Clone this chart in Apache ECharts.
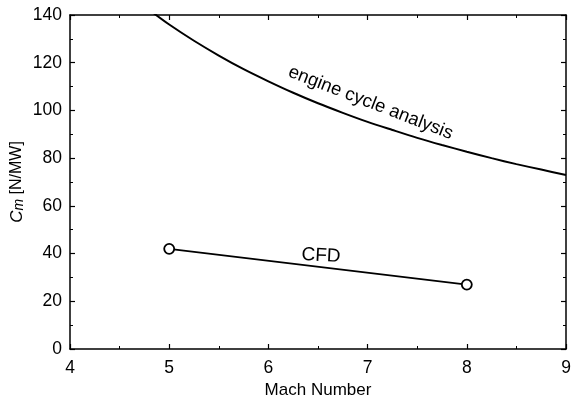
<!DOCTYPE html>
<html><head><meta charset="utf-8">
<script src="https://cdn.jsdelivr.net/npm/echarts@6/dist/echarts.min.js"></script>
<style>html,body{margin:0;padding:0;background:#fff}#c{width:571px;height:398px}</style>
</head><body><div id="c"></div>
<script>
var engineMach = [4.8, 5.0, 5.25, 5.5, 5.75, 6.0, 6.25, 6.5, 6.75, 7.0, 7.25, 7.5, 7.75, 8.0, 8.25, 8.5, 8.75, 9.0];
var engineCm   = [142.1, 136.0, 129.2, 123.0, 117.3, 112.2, 107.4, 103.0, 99.0, 95.2, 91.8, 88.5, 85.5, 82.7, 80.0, 77.5, 75.2, 72.9];
var cfdMach = [5, 8];
var cfdCm = [42, 27];
var xTicks = [4, 5, 6, 7, 8, 9];
var yTicks = [0, 20, 40, 60, 80, 100, 120, 140];

var FONT = 'Liberation Sans';
var chart = echarts.init(document.getElementById('c'));
function zip(a, b) { return a.map(function (v, i) { return [v, b[i]]; }); }
var axisLine = { show: true, onZero: false, lineStyle: { color: '#000', width: 1.5 } };
var tick = { show: true, inside: true, length: 5, lineStyle: { color: '#000', width: 1.2 } };
var minor = { show: true, splitNumber: 2, length: 3, lineStyle: { color: '#000', width: 1 } };
chart.setOption({
  animation: false,
  grid: { left: 70, right: 5, top: 15, bottom: 49, containLabel: false, outerBoundsMode: 'none' },
  xAxis: [{
    type: 'value', min: xTicks[0], max: xTicks[xTicks.length - 1], interval: 1,
    name: 'Mach Number', nameLocation: 'middle', nameGap: 25,
    nameTextStyle: { fontFamily: FONT, fontSize: 17, color: '#000' },
    axisLine: axisLine, axisTick: tick, minorTick: minor, splitLine: { show: false },
    axisLabel: { fontFamily: FONT, fontSize: 17.5, color: '#000', margin: 10 }
  }, {
    type: 'value', position: 'top', min: xTicks[0], max: xTicks[xTicks.length - 1], interval: 1,
    axisLine: axisLine, axisTick: tick, minorTick: minor, splitLine: { show: false },
    axisLabel: { show: false }
  }],
  yAxis: [{
    type: 'value', min: yTicks[0], max: yTicks[yTicks.length - 1], interval: 20,
    name: '{i|C}{s|m} [N/MW]', nameLocation: 'middle', nameGap: 44, nameRotate: 90, nameMoveOverlap: false,
    nameTextStyle: {
      fontFamily: FONT, fontSize: 16, color: '#000',
      rich: {
        i: { fontFamily: FONT, fontSize: 17, fontStyle: 'italic', color: '#000' },
        s: { fontFamily: FONT, fontSize: 14, fontStyle: 'italic', color: '#000', verticalAlign: 'bottom', padding: [4, 0, 0, 0] }
      }
    },
    axisLine: axisLine, axisTick: tick, minorTick: minor, splitLine: { show: false },
    axisLabel: { fontFamily: FONT, fontSize: 17.5, color: '#000', margin: 8 }
  }, {
    type: 'value', position: 'right', min: yTicks[0], max: yTicks[yTicks.length - 1], interval: 20,
    axisLine: axisLine, axisTick: tick, minorTick: minor, splitLine: { show: false },
    axisLabel: { show: false }
  }],
  series: [{
    type: 'line', data: zip(engineMach, engineCm), smooth: 0.3, showSymbol: false,
    lineStyle: { color: '#000', width: 2 }, clip: true, silent: true
  }, {
    type: 'line', data: zip(cfdMach, cfdCm), symbol: 'circle', symbolSize: 10,
    lineStyle: { color: '#000', width: 1.8 },
    itemStyle: { color: '#fff', borderColor: '#000', borderWidth: 1.8 }, silent: true
  }]
});
var p1 = chart.convertToPixel({ gridIndex: 0 }, [7.0, 95.2]);
var p2 = chart.convertToPixel({ gridIndex: 0 }, [6.5, 34.5]);
chart.setOption({
  graphic: [{
    type: 'text', x: p1[0] + 3, y: p1[1] - 19, rotation: -0.37,
    style: { text: 'engine cycle analysis', font: '18.5px "Liberation Sans"', fill: '#000', align: 'center', verticalAlign: 'middle' }
  }, {
    type: 'text', x: p2[0] + 3, y: p2[1] - 11, rotation: -0.05,
    style: { text: 'CFD', font: '19px "Liberation Sans"', fill: '#000', align: 'center', verticalAlign: 'middle' }
  }]
});
</script></body></html>
